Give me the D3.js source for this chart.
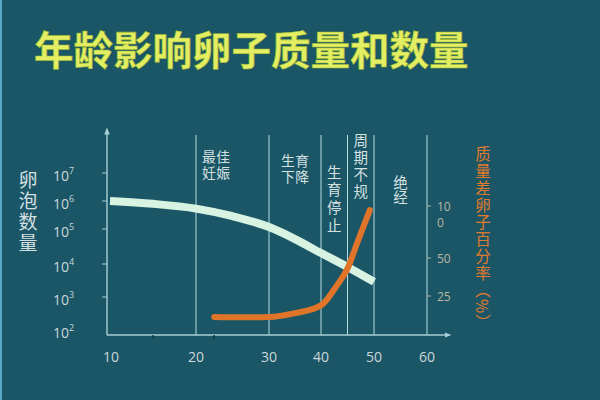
<!DOCTYPE html>
<html><head><meta charset="utf-8">
<script src="https://cdn.jsdelivr.net/npm/d3@7"></script>
<style>
html,body{margin:0;padding:0;background:#1a5666;}
svg{display:block;font-family:"Noto Sans CJK SC","Open Sans",sans-serif;}
.vt{writing-mode:vertical-rl;}
</style></head>
<body>
<svg id="c" width="600" height="400"></svg>
<script>
// ---- data ----
const title = "年龄影响卵子质量和数量";
const ageTicks = [10, 20, 30, 40, 50, 60];
const guideAges = [20, 30, 40, 45, 50, 60];
const minorAgeTicks = [15, 22.5];
const countExpTicks = [2, 3, 4, 5, 6, 7];
const pctTicks = [25, 50, 100];
const pctTickLabels = [["25"], ["50"], ["10", "0"]];
// follicle count (log10) by age
const follicleAges = [10, 15, 20, 25, 30, 35, 40, 45, 50];
const follicleLog = [6.07, 5.97, 5.8, 5.53, 5.14, 4.77, 4.37, 3.97, 3.52];
// % poor-quality eggs by age
const poorAges = [22.5, 26, 30, 35, 40, 43, 45, 47, 49.2];
const poorPct = [11.5, 11.3, 11.5, 14, 19, 32, 43, 67, 96];
// stage labels: each entry is a list of vertical columns (left to right)
const stages = [
  {cols: ["最妊", "佳娠"], from: 20, to: 25.5},
  {cols: ["生下", "育降"], from: 30, to: 40},
  {cols: ["生育停止"], from: 40, to: 45},
  {cols: ["周期不规"], from: 45, to: 50},
  {cols: ["绝经"], from: 50, to: 60}
];
const yTitle = "卵泡数量";
const y2Title = "质量差卵子百分率（%）";

// ---- scales ----
const x = d3.scaleLinear().domain(ageTicks).range([110, 196, 269, 321, 374, 427]);
const y = d3.scaleLinear().domain(countExpTicks).range([332, 299, 266, 231, 203, 175]);
const y2 = d3.scaleLinear().domain([0, 25, 50, 100]).range([335, 296, 258, 206]);

const svg = d3.select("#c");
svg.append("rect").attr("width", 600).attr("height", 400).attr("fill", "#1a5666");
svg.append("rect").attr("width", 2).attr("height", 400).attr("fill", "#5aa8c4");

// title
svg.append("text").attr("x", 34).attr("y", 47).attr("dominant-baseline", "central")
  .attr("font-size", 39.5).attr("font-weight", 700).attr("fill", "#e3ee63")
  .attr("stroke", "#9fb832").attr("stroke-width", 0.6)
  .text(title);

const axisCol = "#a8d0d6";
const baseY = 335, axisX = 107;

// guide lines
svg.append("g").selectAll("line").data(guideAges).join("line")
  .attr("x1", d => x(d)).attr("x2", d => x(d))
  .attr("y1", 135).attr("y2", baseY)
  .attr("stroke", "#b4dbe0").attr("stroke-width", 1);

// axes lines with arrows
svg.append("defs").append("marker").attr("id", "arr").attr("viewBox", "0 0 10 10")
  .attr("refX", 5).attr("refY", 5).attr("markerWidth", 5).attr("markerHeight", 5)
  .attr("orient", "auto").append("path").attr("d", "M0,1 L10,5 L0,9 Z").attr("fill", axisCol);
svg.append("line").attr("x1", axisX).attr("x2", 448).attr("y1", baseY).attr("y2", baseY)
  .attr("stroke", axisCol).attr("stroke-width", 1.4).attr("marker-end", "url(#arr)");
svg.append("line").attr("x1", axisX).attr("x2", axisX).attr("y1", baseY).attr("y2", 131)
  .attr("stroke", axisCol).attr("stroke-width", 1.4).attr("marker-end", "url(#arr)");

// x tick labels
svg.append("g").selectAll("text").data(ageTicks).join("text")
  .attr("x", d => x(d) + (d === 10 ? 1 : 0)).attr("y", 356).attr("text-anchor", "middle")
  .attr("dominant-baseline", "central").attr("font-family", "'Open Sans',sans-serif")
  .attr("font-size", 14).attr("fill", "#cbd8da").text(d => d);
svg.append("g").selectAll("line").data(minorAgeTicks).join("line")
  .attr("x1", d => x(d)).attr("x2", d => x(d)).attr("y1", baseY).attr("y2", baseY + 4)
  .attr("stroke", "#0f3a44").attr("stroke-width", 1.5);

// y ticks & labels
svg.append("g").selectAll("line").data(countExpTicks.slice(1)).join("line")
  .attr("x1", axisX - 5).attr("x2", axisX).attr("y1", d => y(d) - 2).attr("y2", d => y(d) - 2)
  .attr("stroke", axisCol).attr("stroke-width", 1);
const yl = svg.append("g").selectAll("text").data(countExpTicks).join("text")
  .attr("x", 53).attr("y", d => y(d)).attr("dominant-baseline", "central")
  .attr("font-family", "'Open Sans',sans-serif").attr("font-size", 14).attr("fill", "#cbd8da");
yl.append("tspan").text("10");
yl.append("tspan").attr("font-size", 9).attr("dy", -5).text(d => d);

// y title (vertical)
svg.append("text").attr("class", "vt").attr("x", 28).attr("y", 170)
  .attr("font-size", 19).attr("letter-spacing", 2).attr("fill", "#d3dfe0").text(yTitle);

// right axis ticks
svg.append("g").selectAll("line").data(pctTicks).join("line")
  .attr("x1", x(60)).attr("x2", x(60) + 4).attr("y1", d => y2(d)).attr("y2", d => y2(d))
  .attr("stroke", "#b8b39e").attr("stroke-width", 1);
pctTicks.forEach((d, i) => {
  pctTickLabels[i].forEach((l, j) => {
    svg.append("text").attr("x", 437).attr("y", y2(d) + j * 16)
      .attr("font-family", "'Open Sans',sans-serif").attr("font-size", 12)
      .attr("fill", "#bdb7a0").attr("dominant-baseline", "central").text(l);
  });
});

// right title vertical
svg.append("text").attr("class", "vt").attr("x", 483).attr("y", 146)
  .attr("font-size", 15.5).attr("letter-spacing", 1.5).attr("fill", "#e07a2c").text(y2Title);

// stage labels
const stageG = svg.append("g").attr("fill", "#d6e1e2");
stages.forEach(s => {
  const cx = (x(s.from) + x(s.to)) / 2;
  if (s.cols.length === 2) {
    const y0 = s.from === 20 ? 150 : 154;
    s.cols.forEach((c, k) => {
      stageG.append("text").attr("class", "vt").attr("x", cx + (k - 0.5) * 14.2).attr("y", y0)
        .attr("font-size", 13.8).attr("letter-spacing", 1.8).text(c);
    });
  } else {
    const y0 = s.from === 40 ? 165 : s.from === 45 ? 133 : 175;
    const ls = s.from === 40 ? 3.2 : s.from === 45 ? 2.5 : 1;
    stageG.append("text").attr("class", "vt").attr("x", cx).attr("y", y0)
      .attr("font-size", 14.5).attr("letter-spacing", ls).text(s.cols[0]);
  }
});

// curves
const follicleLine = d3.line().x(d => x(d[0])).y(d => y(d[1])).curve(d3.curveMonotoneX);
svg.append("path").datum(follicleAges.map((a, i) => [a, follicleLog[i]]))
  .attr("d", follicleLine).attr("fill", "none").attr("stroke", "#d9f3e2").attr("stroke-width", 8);

const poorLine = d3.line().x(d => x(d[0])).y(d => y2(d[1])).curve(d3.curveMonotoneX);
svg.append("path").datum(poorAges.map((a, i) => [a, poorPct[i]]))
  .attr("d", poorLine).attr("fill", "none").attr("stroke", "#e07428").attr("stroke-width", 6)
  .attr("stroke-linecap", "round");
</script>
</body></html>
